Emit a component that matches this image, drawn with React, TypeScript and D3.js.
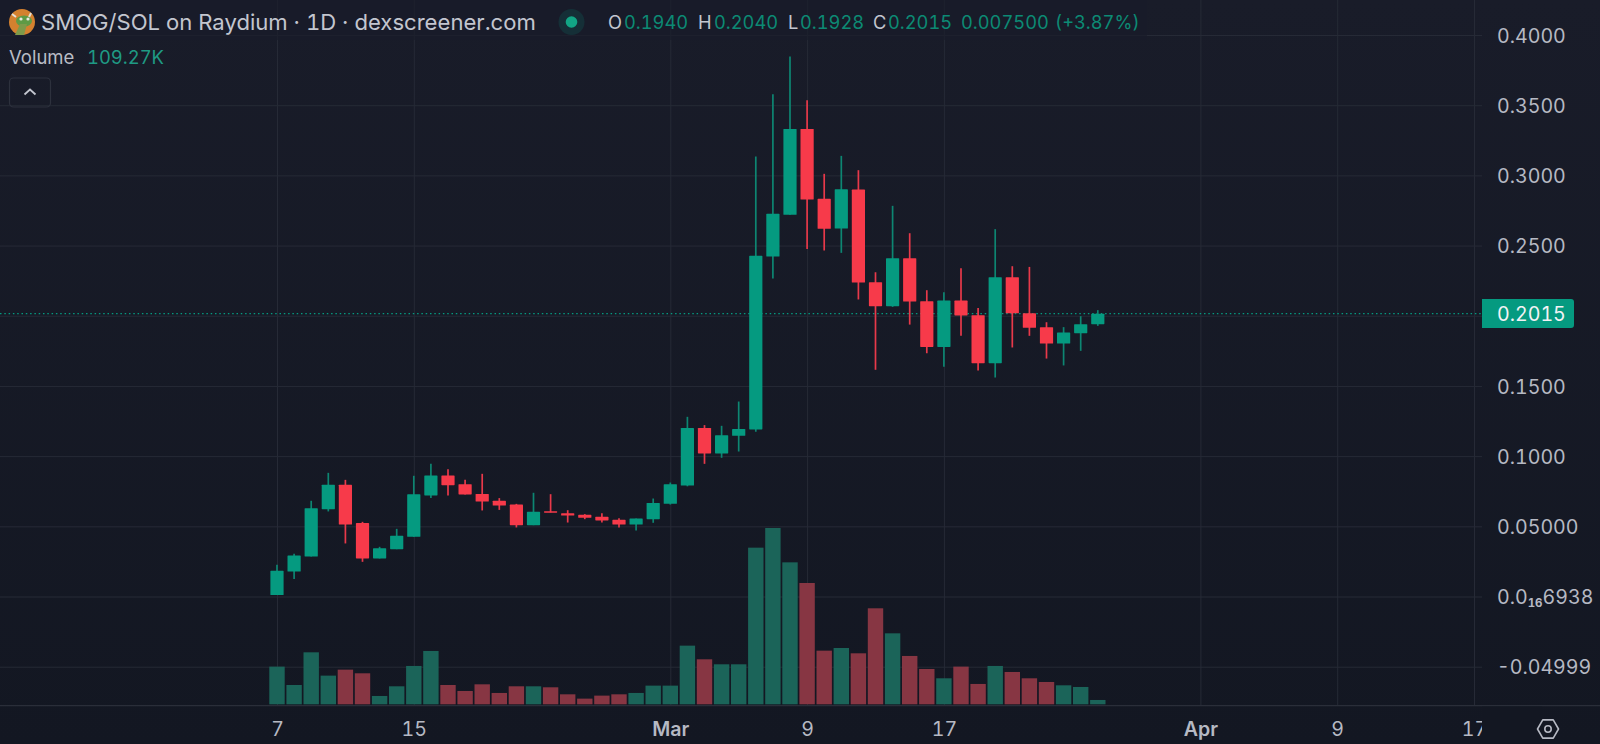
import { useEffect, useRef } from "react";
import * as d3 from "d3";

const firstDay = new Date(Date.UTC(2024, 1, 7));

const opens = [0.001, 0.0178, 0.0285, 0.0622, 0.0796, 0.0523, 0.0271, 0.0337, 0.0425, 0.072, 0.0862, 0.08, 0.0731, 0.0682, 0.0655, 0.0508, 0.0608, 0.0594, 0.0582, 0.0568, 0.0546, 0.0513, 0.0551, 0.066, 0.079, 0.1201, 0.1019, 0.1145, 0.119, 0.2422, 0.2719, 0.3331, 0.2833, 0.2621, 0.2899, 0.2239, 0.2068, 0.241, 0.2104, 0.1778, 0.2108, 0.2004, 0.1662, 0.2275, 0.2018, 0.1919, 0.1802, 0.1876, 0.194];
const highs = [0.0226, 0.0304, 0.0682, 0.0881, 0.0831, 0.0532, 0.0354, 0.0482, 0.086, 0.0945, 0.0907, 0.0831, 0.0874, 0.0701, 0.066, 0.0739, 0.0729, 0.0615, 0.0587, 0.0594, 0.0558, 0.0556, 0.0698, 0.0812, 0.128, 0.1221, 0.1216, 0.1389, 0.3134, 0.3578, 0.3846, 0.3535, 0.3011, 0.3139, 0.3037, 0.231, 0.2783, 0.2588, 0.2182, 0.2168, 0.2339, 0.2056, 0.2617, 0.2353, 0.2348, 0.1954, 0.1919, 0.1997, 0.204];
const lows = [0.001, 0.0124, 0.0285, 0.0606, 0.0378, 0.0247, 0.0271, 0.0337, 0.0425, 0.0701, 0.072, 0.0727, 0.0613, 0.0617, 0.0492, 0.0508, 0.0599, 0.0527, 0.0551, 0.0527, 0.0492, 0.047, 0.0525, 0.0655, 0.0785, 0.0945, 0.0988, 0.1033, 0.1173, 0.2265, 0.2719, 0.2476, 0.2465, 0.2448, 0.2116, 0.1615, 0.2063, 0.1937, 0.1733, 0.1636, 0.1857, 0.161, 0.156, 0.1774, 0.1857, 0.1695, 0.1646, 0.175, 0.1928];
const closes = [0.0183, 0.0292, 0.0629, 0.0796, 0.0513, 0.0271, 0.0344, 0.0432, 0.0729, 0.0862, 0.0793, 0.0727, 0.0677, 0.0648, 0.0508, 0.0603, 0.0599, 0.0577, 0.0561, 0.0542, 0.0513, 0.0556, 0.0667, 0.08, 0.1201, 0.1019, 0.1149, 0.1194, 0.2427, 0.2726, 0.3331, 0.2828, 0.2619, 0.2901, 0.2237, 0.2068, 0.241, 0.2101, 0.1778, 0.2108, 0.2002, 0.1662, 0.2275, 0.2018, 0.1914, 0.1802, 0.1881, 0.194, 0.2015];
// volume in thousands
const volumes = [950, 487, 1311, 723, 874, 782, 210, 454, 967, 1345, 487, 336, 504, 286, 454, 454, 429, 252, 143, 219, 252, 286, 471, 471, 1479, 1135, 1009, 1009, 3950, 4446, 3580, 3059, 1353, 1420, 1286, 2421, 1790, 1219, 891, 656, 950, 513, 967, 815, 656, 563, 479, 437, 109.27];

const priceTicks = [0.4, 0.35, 0.3, 0.25, 0.2, 0.15, 0.1, 0.05, 0, -0.05];
const priceLabels = ["0.4000", "0.3500", "0.3000", "0.2500", "", "0.1500", "0.1000", "0.05000", "0.0|16|6938", "-0.04999"];
const dateTicks = [
  new Date(Date.UTC(2024, 1, 7)),
  new Date(Date.UTC(2024, 1, 15)),
  new Date(Date.UTC(2024, 2, 1)),
  new Date(Date.UTC(2024, 2, 9)),
  new Date(Date.UTC(2024, 2, 17)),
  new Date(Date.UTC(2024, 3, 1)),
  new Date(Date.UTC(2024, 3, 9)),
  new Date(Date.UTC(2024, 3, 17)),
];
const dateLabels = ["7", "15", "Mar", "9", "17", "Apr", "9", "17"];
const lastPrice = 0.2015;

const legendOhlc = [
  { key: "O", value: "0.1940", keyX: 608, valueX: 624 },
  { key: "H", value: "0.2040", keyX: 698, valueX: 714 },
  { key: "L", value: "0.1928", keyX: 788, valueX: 800 },
  { key: "C", value: "0.2015", keyX: 873, valueX: 888 },
];

const width = 1600;
const height = 744;
const plotRight = 1482;
const plotBottom = 705.7;
const font = "Inter, 'Noto Sans', sans-serif";
const green = "#059a80";
const red = "#f73a4a";
const gridColor = "#262a36";
const textColor = "#b6b9c3";
const axisSize = 19.6;
const tabular = "font-variant-numeric: tabular-nums; font-feature-settings: 'tnum'";

const App = () => {
  const ref = useRef<SVGSVGElement>(null);

  useEffect(() => {
    const svg = d3.select(ref.current);
    svg.selectAll("*").remove();

    const defs = svg.append("defs");
    const grad = defs.append("linearGradient").attr("id", "bg").attr("x1", 0).attr("x2", 0).attr("y1", 0).attr("y2", 1);
    grad.append("stop").attr("offset", "0%").attr("stop-color", "#191c29");
    grad.append("stop").attr("offset", "100%").attr("stop-color", "#131722");

    svg.append("rect").attr("width", width).attr("height", height).attr("fill", "url(#bg)");

    const days = opens.map((_, i) => d3.utcDay.offset(firstDay, i));
    const x = d3.scaleUtc()
      .domain([firstDay, new Date(Date.UTC(2024, 3, 17))])
      .range([277, 1474]);
    const y = d3.scaleLinear().domain([-0.05, 0.4]).range([666.7, 35]);
    const yVol = d3.scaleLinear().domain([0, d3.max(volumes) || 0]).range([704.3, 528]);

    // grid
    const gridX = svg.append("g").attr("transform", `translate(0,${plotBottom})`)
      .call(d3.axisBottom(x).tickValues(dateTicks).tickSize(-plotBottom).tickFormat(() => ""));
    gridX.select(".domain").remove();
    gridX.selectAll("line").attr("stroke", gridColor);

    const gridY = svg.append("g").attr("transform", `translate(${plotRight},0)`)
      .call(d3.axisLeft(y).tickValues(priceTicks).tickSize(plotRight).tickFormat(() => ""));
    gridY.select(".domain").remove();
    gridY.selectAll("line").attr("stroke", gridColor);

    // bottom pane line
    svg.append("line").attr("x1", 0).attr("x2", width).attr("y1", plotBottom).attr("y2", plotBottom)
      .attr("stroke", "#2a2e39").attr("stroke-width", 1.2);

    // volume bars
    svg.append("g").selectAll("rect").data(volumes).enter().append("rect")
      .attr("x", (_, i) => x(days[i]) - 7.7)
      .attr("width", 15.4)
      .attr("y", (d) => yVol(d))
      .attr("height", (d) => yVol(0) - yVol(d))
      .attr("fill", (_, i) => (closes[i] >= opens[i] ? "#1b6459" : "#873643"));

    // last price line
    svg.append("line").attr("x1", 0).attr("x2", plotRight)
      .attr("y1", y(lastPrice)).attr("y2", y(lastPrice))
      .attr("stroke", green).attr("stroke-width", 1.4).attr("stroke-dasharray", "1.5 2.8");

    // candles
    const candles = svg.append("g").selectAll("g").data(opens).enter().append("g");
    candles.append("line")
      .attr("x1", (_, i) => x(days[i])).attr("x2", (_, i) => x(days[i]))
      .attr("y1", (_, i) => y(highs[i])).attr("y2", (_, i) => y(lows[i]))
      .attr("stroke", (_, i) => (closes[i] >= opens[i] ? "#0d8672" : "#e8394a"))
      .attr("stroke-width", 1.7);
    candles.append("rect")
      .attr("x", (_, i) => x(days[i]) - 6.6)
      .attr("width", 13.2)
      .attr("y", (_, i) => y(Math.max(opens[i], closes[i])))
      .attr("height", (_, i) => Math.max(1.5, Math.abs(y(opens[i]) - y(closes[i]))))
      .attr("rx", 0.6)
      .attr("fill", (_, i) => (closes[i] >= opens[i] ? green : red));

    // price axis
    const axisY = svg.append("g").attr("transform", `translate(${plotRight + 15},0)`)
      .call(d3.axisRight(y).tickValues(priceTicks).tickSize(0).tickPadding(0)
        .tickFormat((_, i) => priceLabels[i]));
    axisY.select(".domain").remove();
    axisY.selectAll("text")
      .attr("font-family", font).attr("font-size", axisSize).attr("fill", textColor)
      .attr("style", tabular)
      .attr("dy", "0.36em")
      .each(function () {
        const parts = d3.select(this).text().split("|");
        if (parts.length === 3) {
          const t = d3.select(this).text(parts[0]);
          t.append("tspan").attr("font-size", 11.5).attr("font-weight", 700).attr("dy", 3).text(parts[1]);
          t.append("tspan").attr("dy", -3).text(parts[2]);
        }
      });

    // last price label
    svg.append("path")
      .attr("d", "M1482,299H1571a3,3 0 0 1 3,3V325a3,3 0 0 1 -3,3H1482Z")
      .attr("fill", green);
    svg.append("text").attr("x", 1497).attr("y", y(lastPrice)).attr("dy", "0.36em")
      .attr("font-family", font).attr("font-size", axisSize).attr("fill", "#f2f3f5")
      .attr("style", tabular)
      .text(lastPrice.toFixed(4));

    // date axis
    const axisX = svg.append("g").attr("transform", "translate(0,729)")
      .call(d3.axisBottom(x).tickValues(dateTicks).tickSize(0).tickPadding(0)
        .tickFormat((_, i) => dateLabels[i]));
    axisX.select(".domain").remove();
    axisX.selectAll("text")
      .attr("font-family", font).attr("font-size", axisSize).attr("fill", textColor)
      .attr("style", tabular)
      .attr("dy", "0.36em")
      .attr("font-weight", (_, i) => (dateLabels[i] === "Mar" || dateLabels[i] === "Apr" ? 600 : 400));
    // last label gets cut at the pane edge
    svg.append("rect").attr("x", plotRight).attr("y", plotBottom + 1).attr("width", 60).attr("height", 37).attr("fill", "#131722");

    // settings icon
    const hex = d3.range(6).map((i) => {
      const a = (Math.PI / 3) * i;
      return [1548 + 10.5 * Math.cos(a), 729 + 10.5 * Math.sin(a)] as [number, number];
    });
    svg.append("path").attr("d", d3.line().curve(d3.curveLinearClosed)(hex))
      .attr("fill", "none").attr("stroke", textColor).attr("stroke-width", 1.6).attr("stroke-linejoin", "round");
    svg.append("circle").attr("cx", 1548).attr("cy", 729).attr("r", 3.2)
      .attr("fill", "none").attr("stroke", textColor).attr("stroke-width", 1.6);

    // legend backdrop
    svg.append("rect").attr("x", 0).attr("y", 0).attr("width", 1147).attr("height", 40)
      .attr("fill", "#191c29").attr("fill-opacity", 0.65);

    // token icon
    svg.append("circle").attr("cx", 22).attr("cy", 22).attr("r", 13).attr("fill", "#d4812f");
    svg.append("ellipse").attr("cx", 24).attr("cy", 21).attr("rx", 8).attr("ry", 5.5).attr("fill", "#5f9a45");
    svg.append("path").attr("d", "M15,35 L20,24 L27,24 L24,35 Z").attr("fill", "#7e9a4a");
    svg.append("circle").attr("cx", 21).attr("cy", 19).attr("r", 1.6).attr("fill", "#e8e8e0");
    svg.append("circle").attr("cx", 28).attr("cy", 19).attr("r", 1.6).attr("fill", "#e8e8e0");
    svg.append("path").attr("d", "M12,14 L16,17 M31,13 L29,17").attr("stroke", "#e6e0d4").attr("stroke-width", 2);

    const label = (tx: number, ty: number, s: string, fill: string, size = 18.5) =>
      svg.append("text").attr("x", tx).attr("y", ty)
        .attr("font-family", font).attr("font-size", size).attr("fill", fill)
        .attr("style", tabular).text(s);

    label(41, 30, "SMOG/SOL on Raydium · 1D · dexscreener.com", "#c3c6cf", 22.1);

    svg.append("circle").attr("cx", 571.5).attr("cy", 22).attr("r", 13).attr("fill", green).attr("fill-opacity", 0.16);
    svg.append("circle").attr("cx", 571.5).attr("cy", 22).attr("r", 5.8).attr("fill", "#12a585");

    legendOhlc.forEach((d) => {
      label(d.keyX, 29, d.key, "#c3c6cf", 18.3);
      label(d.valueX, 29, d.value, "#0c8a74", 18.3);
    });
    label(961, 29, "0.007500", "#0c8a74", 18.3);
    label(1055, 29, "(+3.87%)", "#0c8a74", 18.3);

    label(9, 64, "Volume", "#b9bcc5", 18.5);
    label(87, 64, "109.27K", "#1f9a84", 18.4);

    svg.append("rect").attr("x", 9.5).attr("y", 78).attr("width", 41).attr("height", 29).attr("rx", 4)
      .attr("fill", "none").attr("stroke", "#2d313d").attr("stroke-width", 1.2);
    svg.append("path").attr("d", "M24.5,94.5 L30,89.5 L35.5,94.5")
      .attr("fill", "none").attr("stroke", "#c3c6cf").attr("stroke-width", 1.8);
  }, []);

  return (
    <svg
      ref={ref}
      width={width}
      height={height}
      style={{ position: "fixed", left: 0, top: 0, display: "block" }}
    />
  );
};

export default App;
